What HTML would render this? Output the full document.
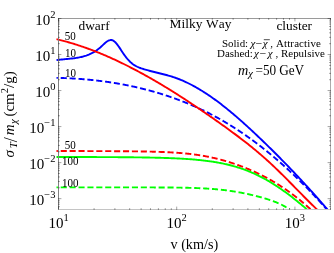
<!DOCTYPE html>
<html><head><meta charset="utf-8"><title>plot</title>
<style>
html,body{margin:0;padding:0;background:#fff;}
body{width:334px;height:253px;overflow:hidden;font-family:"Liberation Serif",serif;}
svg{display:block;will-change:transform;}
text{font-family:"Liberation Serif",serif;fill:#000;font-kerning:none;}
.i{font-style:italic;}
</style></head><body>
<svg width="334" height="253" viewBox="0 0 334 253">
<rect width="334" height="253" fill="#fff"/>
<defs><clipPath id="c"><rect x="56.3" y="0" width="280" height="210"/></clipPath></defs>

<g clip-path="url(#c)" fill="none" stroke-width="1.9" stroke-linejoin="round">
<path d="M56.3,60.18 L57.3,60.03 L58.3,59.89 L59.3,59.76 L60.3,59.64 L61.3,59.53 L62.3,59.43 L63.3,59.33 L64.3,59.23 L65.3,59.14 L66.3,59.05 L67.3,58.95 L68.3,58.86 L69.3,58.77 L70.3,58.67 L71.3,58.56 L72.3,58.45 L73.3,58.34 L74.3,58.21 L75.3,58.07 L76.3,57.92 L77.3,57.76 L78.3,57.59 L79.3,57.40 L80.3,57.19 L81.3,56.96 L82.3,56.72 L83.3,56.46 L84.3,56.17 L85.3,55.86 L86.3,55.53 L87.3,55.17 L88.3,54.78 L89.3,54.37 L90.3,53.92 L91.3,53.45 L92.3,52.94 L93.3,52.40 L94.3,51.83 L95.3,51.22 L96.3,50.56 L97.3,49.86 L98.3,49.11 L99.3,48.31 L100.3,47.44 L101.3,46.52 L102.3,45.57 L103.3,44.62 L104.3,43.69 L105.3,42.80 L106.3,42.00 L107.3,41.30 L108.3,40.72 L109.3,40.30 L110.3,40.05 L111.3,40.01 L112.3,40.21 L113.3,40.66 L114.3,41.35 L115.3,42.26 L116.3,43.35 L117.3,44.59 L118.3,45.95 L119.3,47.40 L120.3,48.90 L121.3,50.43 L122.3,51.96 L123.3,53.45 L124.3,54.89 L125.3,56.25 L126.3,57.55 L127.3,58.76 L128.3,59.90 L129.3,60.97 L130.3,61.95 L131.3,62.85 L132.3,63.67 L133.3,64.42 L134.3,65.09 L135.3,65.70 L136.3,66.26 L137.3,66.76 L138.3,67.22 L139.3,67.63 L140.3,68.01 L141.3,68.37 L142.3,68.70 L143.3,69.01 L144.3,69.32 L145.3,69.61 L146.3,69.90 L147.3,70.18 L148.3,70.46 L149.3,70.72 L150.3,70.99 L151.3,71.25 L152.3,71.50 L153.3,71.75 L154.3,72.00 L155.3,72.25 L156.3,72.49 L157.3,72.74 L158.3,72.98 L159.3,73.23 L160.3,73.48 L161.3,73.72 L162.3,73.98 L163.3,74.23 L164.3,74.49 L165.3,74.75 L166.3,75.02 L167.3,75.29 L168.3,75.57 L169.3,75.86 L170.3,76.15 L171.3,76.46 L172.3,76.77 L173.3,77.09 L174.3,77.42 L175.3,77.77 L176.3,78.12 L177.3,78.49 L178.3,78.87 L179.3,79.25 L180.3,79.65 L181.3,80.06 L182.3,80.49 L183.3,80.92 L184.3,81.36 L185.3,81.82 L186.3,82.28 L187.3,82.76 L188.3,83.24 L189.3,83.74 L190.3,84.24 L191.3,84.76 L192.3,85.28 L193.3,85.82 L194.3,86.36 L195.3,86.92 L196.3,87.48 L197.3,88.06 L198.3,88.64 L199.3,89.23 L200.3,89.83 L201.3,90.44 L202.3,91.06 L203.3,91.69 L204.3,92.33 L205.3,92.97 L206.3,93.62 L207.3,94.29 L208.3,94.96 L209.3,95.63 L210.3,96.32 L211.3,97.02 L212.3,97.72 L213.3,98.43 L214.3,99.14 L215.3,99.87 L216.3,100.60 L217.3,101.34 L218.3,102.09 L219.3,102.84 L220.3,103.60 L221.3,104.37 L222.3,105.15 L223.3,105.93 L224.3,106.71 L225.3,107.51 L226.3,108.31 L227.3,109.12 L228.3,109.93 L229.3,110.75 L230.3,111.58 L231.3,112.41 L232.3,113.24 L233.3,114.09 L234.3,114.93 L235.3,115.79 L236.3,116.65 L237.3,117.51 L238.3,118.38 L239.3,119.25 L240.3,120.13 L241.3,121.02 L242.3,121.91 L243.3,122.80 L244.3,123.70 L245.3,124.60 L246.3,125.51 L247.3,126.42 L248.3,127.33 L249.3,128.25 L250.3,129.17 L251.3,130.10 L252.3,131.03 L253.3,131.97 L254.3,132.90 L255.3,133.84 L256.3,134.79 L257.3,135.73 L258.3,136.69 L259.3,137.64 L260.3,138.59 L261.3,139.55 L262.3,140.51 L263.3,141.48 L264.3,142.45 L265.3,143.42 L266.3,144.39 L267.3,145.36 L268.3,146.34 L269.3,147.32 L270.3,148.30 L271.3,149.29 L272.3,150.28 L273.3,151.27 L274.3,152.26 L275.3,153.26 L276.3,154.26 L277.3,155.26 L278.3,156.27 L279.3,157.28 L280.3,158.29 L281.3,159.30 L282.3,160.32 L283.3,161.34 L284.3,162.36 L285.3,163.39 L286.3,164.42 L287.3,165.45 L288.3,166.49 L289.3,167.52 L290.3,168.57 L291.3,169.61 L292.3,170.66 L293.3,171.71 L294.3,172.76 L295.3,173.82 L296.3,174.88 L297.3,175.94 L298.3,177.01 L299.3,178.07 L300.3,179.15 L301.3,180.22 L302.3,181.30 L303.3,182.38 L304.3,183.47 L305.3,184.55 L306.3,185.65 L307.3,186.74 L308.3,187.84 L309.3,188.94 L310.3,190.04 L311.3,191.15 L312.3,192.26 L313.3,193.38 L314.3,194.50 L315.3,195.62 L316.3,196.74 L317.3,197.87 L318.3,199.00 L319.3,200.14 L320.3,201.27 L321.3,202.42 L322.3,203.56 L323.3,204.71 L324.3,205.86 L325.3,207.02 L326.3,208.18 L327.3,209.34 L328.3,210.50" stroke="#0000ff"/>
<path d="M56.30,77.84 L56.80,77.85 L57.30,77.87 L57.80,77.88 L57.90,77.88M60.70,77.96 L61.20,77.97 L61.70,77.99 L62.20,78.00 L62.70,78.02 L63.20,78.04 L63.70,78.06 L64.20,78.08 L64.70,78.10 L65.20,78.12 L65.70,78.14 L66.20,78.16 L66.70,78.18 L66.80,78.18M69.60,78.31 L70.10,78.34 L70.60,78.36 L71.10,78.39 L71.60,78.42 L72.10,78.44 L72.60,78.47 L73.10,78.50 L73.60,78.53 L74.10,78.56 L74.60,78.59 L75.10,78.62 L75.60,78.65 L75.70,78.66M78.50,78.84 L79.00,78.88 L79.50,78.91 L80.00,78.95 L80.50,78.99 L81.00,79.03 L81.50,79.06 L82.00,79.10 L82.50,79.14 L83.00,79.18 L83.50,79.22 L84.00,79.26 L84.50,79.31 L84.55,79.31M87.35,79.56 L87.85,79.60 L88.35,79.65 L88.85,79.69 L89.35,79.74 L89.85,79.79 L90.35,79.84 L90.85,79.89 L91.35,79.94 L91.85,79.99 L92.35,80.04 L92.85,80.09 L93.35,80.15 L93.45,80.16M96.25,80.47 L96.75,80.52 L97.25,80.58 L97.75,80.64 L98.25,80.70 L98.75,80.76 L99.25,80.82 L99.75,80.88 L100.25,80.94 L100.75,81.00 L101.25,81.07 L101.75,81.13 L102.25,81.19M105.05,81.57 L105.55,81.63 L106.05,81.70 L106.55,81.77 L107.05,81.85 L107.55,81.92 L108.05,81.99 L108.55,82.06 L109.05,82.13 L109.55,82.21 L110.05,82.28 L110.55,82.36 L111.05,82.44 L111.10,82.44M113.85,82.88 L114.35,82.96 L114.85,83.04 L115.35,83.12 L115.85,83.20 L116.35,83.29 L116.85,83.37 L117.35,83.46 L117.85,83.54 L118.35,83.63 L118.85,83.72 L119.35,83.81 L119.85,83.89M122.65,84.40 L123.15,84.50 L123.65,84.59 L124.15,84.69 L124.65,84.78 L125.15,84.88 L125.65,84.98 L126.15,85.08 L126.65,85.17 L127.15,85.27 L127.65,85.37 L128.15,85.48 L128.60,85.57M131.35,86.14 L131.85,86.25 L132.35,86.35 L132.85,86.46 L133.35,86.57 L133.85,86.68 L134.35,86.79 L134.85,86.90 L135.35,87.02 L135.85,87.13 L136.35,87.24 L136.85,87.36 L137.30,87.46M140.05,88.11 L140.55,88.23 L141.05,88.35 L141.55,88.47 L142.05,88.59 L142.55,88.72 L143.05,88.84 L143.55,88.97 L144.05,89.09 L144.55,89.22 L145.05,89.35 L145.55,89.48 L145.95,89.58M148.65,90.29 L149.15,90.42 L149.65,90.56 L150.15,90.69 L150.65,90.83 L151.15,90.97 L151.65,91.11 L152.15,91.25 L152.65,91.39 L153.15,91.53 L153.65,91.67 L154.15,91.81 L154.55,91.93M157.25,92.71 L157.75,92.86 L158.25,93.01 L158.75,93.16 L159.25,93.31 L159.75,93.47 L160.25,93.62 L160.75,93.77 L161.25,93.93 L161.75,94.08 L162.25,94.24 L162.75,94.40 L163.05,94.49M165.75,95.36 L166.25,95.53 L166.75,95.69 L167.25,95.86 L167.75,96.02 L168.25,96.19 L168.75,96.36 L169.25,96.53 L169.75,96.70 L170.25,96.87 L170.75,97.04 L171.25,97.22 L171.50,97.30M174.15,98.24 L174.65,98.42 L175.15,98.60 L175.65,98.78 L176.15,98.96 L176.65,99.15 L177.15,99.33 L177.65,99.52 L178.15,99.71 L178.65,99.89 L179.15,100.08 L179.65,100.27 L179.85,100.35M182.50,101.37 L183.00,101.57 L183.50,101.77 L184.00,101.96 L184.50,102.16 L185.00,102.36 L185.50,102.57 L186.00,102.77 L186.50,102.97 L187.00,103.18 L187.50,103.38 L188.00,103.59 L188.15,103.65M190.70,104.73 L191.20,104.94 L191.70,105.15 L192.20,105.37 L192.70,105.59 L193.20,105.81 L193.70,106.02 L194.20,106.24 L194.70,106.47 L195.20,106.69 L195.70,106.91 L196.20,107.14 L196.30,107.18M198.85,108.35 L199.35,108.58 L199.85,108.81 L200.35,109.05 L200.85,109.28 L201.35,109.52 L201.85,109.75 L202.35,109.99 L202.85,110.23 L203.35,110.47 L203.85,110.72 L204.35,110.96M206.85,112.19 L207.35,112.44 L207.85,112.70 L208.35,112.95 L208.85,113.20 L209.35,113.46 L209.85,113.71 L210.35,113.97 L210.85,114.23 L211.35,114.49 L211.85,114.75 L212.30,114.99M214.75,116.29 L215.25,116.56 L215.75,116.83 L216.25,117.10 L216.75,117.38 L217.25,117.65 L217.75,117.93 L218.25,118.20 L218.75,118.48 L219.25,118.76 L219.75,119.04 L220.10,119.24M222.55,120.64 L223.05,120.93 L223.55,121.22 L224.05,121.51 L224.55,121.80 L225.05,122.10 L225.55,122.39 L226.05,122.69 L226.55,122.99 L227.05,123.29 L227.55,123.59 L227.80,123.74M230.20,125.20 L230.70,125.51 L231.20,125.82 L231.70,126.13 L232.20,126.44 L232.70,126.76 L233.20,127.07 L233.70,127.39 L234.20,127.71 L234.70,128.03 L235.20,128.35 L235.35,128.44M237.70,129.97 L238.20,130.29 L238.70,130.62 L239.20,130.95 L239.70,131.29 L240.20,131.62 L240.70,131.95 L241.20,132.29 L241.70,132.63 L242.20,132.96 L242.70,133.30 L242.75,133.34M245.10,134.95 L245.60,135.30 L246.10,135.65 L246.60,136.00 L247.10,136.35 L247.60,136.70 L248.10,137.05 L248.60,137.41 L249.10,137.76 L249.60,138.12 L250.05,138.44M252.35,140.11 L252.85,140.48 L253.35,140.84 L253.85,141.21 L254.35,141.58 L254.85,141.95 L255.35,142.33 L255.85,142.70 L256.35,143.08 L256.85,143.45 L257.20,143.72M259.45,145.43 L259.95,145.81 L260.45,146.20 L260.95,146.59 L261.45,146.98 L261.95,147.37 L262.45,147.76 L262.95,148.15 L263.45,148.54 L263.95,148.94 L264.25,149.18M266.45,150.93 L266.95,151.34 L267.45,151.74 L267.95,152.15 L268.45,152.56 L268.95,152.96 L269.45,153.37 L269.95,153.78 L270.45,154.20 L270.95,154.61 L271.15,154.78M273.35,156.62 L273.85,157.04 L274.35,157.46 L274.85,157.88 L275.35,158.31 L275.85,158.74 L276.35,159.16 L276.85,159.59 L277.35,160.02 L277.85,160.46 L277.95,160.54M280.10,162.42 L280.60,162.86 L281.10,163.30 L281.60,163.74 L282.10,164.18 L282.60,164.63 L283.10,165.08 L283.60,165.52 L284.10,165.97 L284.60,166.42M286.70,168.33 L287.20,168.79 L287.70,169.25 L288.20,169.71 L288.70,170.17 L289.20,170.63 L289.70,171.09 L290.20,171.56 L290.70,172.03 L291.15,172.45M293.20,174.38 L293.70,174.86 L294.20,175.33 L294.70,175.81 L295.20,176.29 L295.70,176.77 L296.20,177.25 L296.70,177.74 L297.20,178.22 L297.60,178.61M299.60,180.57 L300.10,181.06 L300.60,181.55 L301.10,182.05 L301.60,182.54 L302.10,183.04 L302.60,183.54 L303.10,184.04 L303.60,184.55 L303.90,184.85M305.90,186.87 L306.40,187.38 L306.90,187.89 L307.40,188.41 L307.90,188.92 L308.40,189.44 L308.90,189.95 L309.40,190.47 L309.90,190.99 L310.15,191.25M312.10,193.29 L312.60,193.82 L313.10,194.35 L313.60,194.88 L314.10,195.41 L314.60,195.94 L315.10,196.48 L315.60,197.01 L316.10,197.55 L316.25,197.71M318.15,199.77 L318.65,200.31 L319.15,200.86 L319.65,201.40 L320.15,201.95 L320.65,202.50 L321.15,203.05 L321.65,203.60 L322.15,204.16 L322.25,204.27M324.15,206.39 L324.65,206.95 L325.15,207.51 L325.65,208.07 L326.15,208.64 L326.65,209.20 L327.15,209.77 L327.65,210.34 L327.90,210.63" stroke="#0000ff"/>
<path d="M56.3,39.16 L57.3,39.39 L58.3,39.63 L59.3,39.87 L60.3,40.12 L61.3,40.37 L62.3,40.62 L63.3,40.88 L64.3,41.14 L65.3,41.41 L66.3,41.68 L67.3,41.96 L68.3,42.24 L69.3,42.53 L70.3,42.82 L71.3,43.11 L72.3,43.41 L73.3,43.71 L74.3,44.02 L75.3,44.33 L76.3,44.64 L77.3,44.96 L78.3,45.28 L79.3,45.61 L80.3,45.94 L81.3,46.28 L82.3,46.62 L83.3,46.96 L84.3,47.31 L85.3,47.66 L86.3,48.01 L87.3,48.37 L88.3,48.74 L89.3,49.10 L90.3,49.47 L91.3,49.85 L92.3,50.23 L93.3,50.61 L94.3,51.00 L95.3,51.39 L96.3,51.78 L97.3,52.18 L98.3,52.58 L99.3,52.98 L100.3,53.39 L101.3,53.81 L102.3,54.22 L103.3,54.64 L104.3,55.07 L105.3,55.49 L106.3,55.92 L107.3,56.36 L108.3,56.79 L109.3,57.24 L110.3,57.68 L111.3,58.13 L112.3,58.58 L113.3,59.04 L114.3,59.49 L115.3,59.96 L116.3,60.42 L117.3,60.89 L118.3,61.36 L119.3,61.84 L120.3,62.32 L121.3,62.80 L122.3,63.28 L123.3,63.77 L124.3,64.26 L125.3,64.76 L126.3,65.26 L127.3,65.76 L128.3,66.26 L129.3,66.77 L130.3,67.28 L131.3,67.79 L132.3,68.31 L133.3,68.83 L134.3,69.35 L135.3,69.88 L136.3,70.41 L137.3,70.94 L138.3,71.47 L139.3,72.01 L140.3,72.55 L141.3,73.09 L142.3,73.64 L143.3,74.19 L144.3,74.74 L145.3,75.30 L146.3,75.85 L147.3,76.41 L148.3,76.98 L149.3,77.54 L150.3,78.11 L151.3,78.68 L152.3,79.26 L153.3,79.83 L154.3,80.41 L155.3,80.99 L156.3,81.58 L157.3,82.17 L158.3,82.76 L159.3,83.35 L160.3,83.94 L161.3,84.54 L162.3,85.14 L163.3,85.74 L164.3,86.35 L165.3,86.95 L166.3,87.56 L167.3,88.17 L168.3,88.79 L169.3,89.40 L170.3,90.02 L171.3,90.64 L172.3,91.27 L173.3,91.89 L174.3,92.52 L175.3,93.15 L176.3,93.78 L177.3,94.42 L178.3,95.05 L179.3,95.69 L180.3,96.33 L181.3,96.98 L182.3,97.62 L183.3,98.27 L184.3,98.92 L185.3,99.57 L186.3,100.22 L187.3,100.88 L188.3,101.53 L189.3,102.19 L190.3,102.85 L191.3,103.52 L192.3,104.18 L193.3,104.85 L194.3,105.52 L195.3,106.19 L196.3,106.86 L197.3,107.53 L198.3,108.21 L199.3,108.89 L200.3,109.56 L201.3,110.25 L202.3,110.93 L203.3,111.61 L204.3,112.30 L205.3,112.99 L206.3,113.68 L207.3,114.37 L208.3,115.06 L209.3,115.75 L210.3,116.45 L211.3,117.14 L212.3,117.84 L213.3,118.54 L214.3,119.24 L215.3,119.95 L216.3,120.65 L217.3,121.36 L218.3,122.06 L219.3,122.77 L220.3,123.48 L221.3,124.19 L222.3,124.91 L223.3,125.62 L224.3,126.34 L225.3,127.06 L226.3,127.78 L227.3,128.50 L228.3,129.22 L229.3,129.95 L230.3,130.68 L231.3,131.41 L232.3,132.15 L233.3,132.89 L234.3,133.63 L235.3,134.37 L236.3,135.12 L237.3,135.87 L238.3,136.62 L239.3,137.38 L240.3,138.14 L241.3,138.91 L242.3,139.67 L243.3,140.45 L244.3,141.22 L245.3,142.00 L246.3,142.79 L247.3,143.58 L248.3,144.37 L249.3,145.17 L250.3,145.97 L251.3,146.78 L252.3,147.59 L253.3,148.41 L254.3,149.23 L255.3,150.06 L256.3,150.89 L257.3,151.73 L258.3,152.57 L259.3,153.42 L260.3,154.28 L261.3,155.14 L262.3,156.00 L263.3,156.88 L264.3,157.76 L265.3,158.64 L266.3,159.53 L267.3,160.43 L268.3,161.33 L269.3,162.25 L270.3,163.16 L271.3,164.09 L272.3,165.02 L273.3,165.96 L274.3,166.91 L275.3,167.86 L276.3,168.82 L277.3,169.78 L278.3,170.75 L279.3,171.73 L280.3,172.71 L281.3,173.70 L282.3,174.69 L283.3,175.68 L284.3,176.68 L285.3,177.68 L286.3,178.68 L287.3,179.69 L288.3,180.70 L289.3,181.71 L290.3,182.73 L291.3,183.74 L292.3,184.76 L293.3,185.78 L294.3,186.80 L295.3,187.82 L296.3,188.84 L297.3,189.86 L298.3,190.88 L299.3,191.90 L300.3,192.92 L301.3,193.93 L302.3,194.95 L303.3,195.96 L304.3,196.97 L305.3,197.98 L306.3,198.99 L307.3,199.99 L308.3,200.99 L309.3,201.99 L310.3,202.98 L311.3,203.97 L312.3,204.95 L313.3,205.93 L314.3,206.90 L315.3,207.87 L316.3,208.83 L317.3,209.78" stroke="#ff0000"/>
<path d="M56.30,151.03 L56.80,151.03 L57.30,151.03 L57.80,151.03 L57.90,151.03M60.70,151.03 L61.20,151.03 L61.70,151.03 L62.20,151.03 L62.70,151.03 L63.20,151.04 L63.70,151.04 L64.20,151.04 L64.70,151.04 L65.20,151.04 L65.70,151.04 L66.20,151.04 L66.70,151.04 L66.80,151.04M69.60,151.04 L70.10,151.04 L70.60,151.04 L71.10,151.04 L71.60,151.05 L72.10,151.05 L72.60,151.05 L73.10,151.05 L73.60,151.05 L74.10,151.05 L74.60,151.05 L75.10,151.05 L75.60,151.05 L75.70,151.05M78.50,151.06 L79.00,151.06 L79.50,151.06 L80.00,151.06 L80.50,151.06 L81.00,151.06 L81.50,151.06 L82.00,151.06 L82.50,151.06 L83.00,151.06 L83.50,151.07 L84.00,151.07 L84.50,151.07 L84.60,151.07M87.40,151.07 L87.90,151.08 L88.40,151.08 L88.90,151.08 L89.40,151.08 L89.90,151.08 L90.40,151.08 L90.90,151.08 L91.40,151.08 L91.90,151.09 L92.40,151.09 L92.90,151.09 L93.40,151.09 L93.50,151.09M96.30,151.10 L96.80,151.10 L97.30,151.10 L97.80,151.10 L98.30,151.11 L98.80,151.11 L99.30,151.11 L99.80,151.11 L100.30,151.11 L100.80,151.11 L101.30,151.12 L101.80,151.12 L102.30,151.12 L102.40,151.12M105.20,151.13 L105.70,151.13 L106.20,151.14 L106.70,151.14 L107.20,151.14 L107.70,151.14 L108.20,151.15 L108.70,151.15 L109.20,151.15 L109.70,151.15 L110.20,151.16 L110.70,151.16 L111.20,151.16 L111.30,151.16M114.10,151.18 L114.60,151.18 L115.10,151.18 L115.60,151.19 L116.10,151.19 L116.60,151.19 L117.10,151.20 L117.60,151.20 L118.10,151.20 L118.60,151.21 L119.10,151.21 L119.60,151.21 L120.10,151.22 L120.20,151.22M123.00,151.24 L123.50,151.24 L124.00,151.25 L124.50,151.25 L125.00,151.26 L125.50,151.26 L126.00,151.26 L126.50,151.27 L127.00,151.27 L127.50,151.28 L128.00,151.28 L128.50,151.29 L129.00,151.29 L129.10,151.29M131.90,151.32 L132.40,151.33 L132.90,151.34 L133.40,151.34 L133.90,151.35 L134.40,151.35 L134.90,151.36 L135.40,151.37 L135.90,151.37 L136.40,151.38 L136.90,151.39 L137.40,151.39 L137.90,151.40 L138.00,151.40M140.80,151.45 L141.30,151.45 L141.80,151.46 L142.30,151.47 L142.80,151.48 L143.30,151.49 L143.80,151.50 L144.30,151.51 L144.80,151.52 L145.30,151.52 L145.80,151.53 L146.30,151.54 L146.80,151.55 L146.90,151.56M149.70,151.62 L150.20,151.63 L150.70,151.64 L151.20,151.65 L151.70,151.66 L152.20,151.68 L152.70,151.69 L153.20,151.70 L153.70,151.72 L154.20,151.73 L154.70,151.74 L155.20,151.76 L155.70,151.77 L155.80,151.78M158.60,151.86 L159.10,151.88 L159.60,151.90 L160.10,151.91 L160.60,151.93 L161.10,151.95 L161.60,151.97 L162.10,151.99 L162.60,152.01 L163.10,152.03 L163.60,152.05 L164.10,152.07 L164.60,152.09 L164.70,152.09M167.50,152.22 L168.00,152.24 L168.50,152.26 L169.00,152.29 L169.50,152.32 L170.00,152.34 L170.50,152.37 L171.00,152.39 L171.50,152.42 L172.00,152.45 L172.50,152.48 L173.00,152.51 L173.50,152.54 L173.60,152.54M176.40,152.72 L176.90,152.76 L177.40,152.79 L177.90,152.83 L178.40,152.87 L178.90,152.90 L179.40,152.94 L179.90,152.98 L180.40,153.02 L180.90,153.06 L181.40,153.10 L181.90,153.14 L182.40,153.18 L182.45,153.19M185.25,153.44 L185.75,153.49 L186.25,153.54 L186.75,153.59 L187.25,153.64 L187.75,153.69 L188.25,153.75 L188.75,153.80 L189.25,153.85 L189.75,153.91 L190.25,153.97 L190.75,154.02 L191.25,154.08 L191.30,154.09M194.10,154.44 L194.60,154.50 L195.10,154.57 L195.60,154.64 L196.10,154.71 L196.60,154.78 L197.10,154.85 L197.60,154.92 L198.10,155.00 L198.60,155.07 L199.10,155.15 L199.60,155.23 L200.10,155.31 L200.15,155.31M202.90,155.77 L203.40,155.86 L203.90,155.95 L204.40,156.03 L204.90,156.13 L205.40,156.22 L205.90,156.31 L206.40,156.41 L206.90,156.50 L207.40,156.60 L207.90,156.70 L208.40,156.80 L208.90,156.90M211.65,157.48 L212.15,157.59 L212.65,157.70 L213.15,157.81 L213.65,157.92 L214.15,158.04 L214.65,158.15 L215.15,158.27 L215.65,158.39 L216.15,158.51 L216.65,158.63 L217.15,158.76 L217.55,158.86M220.30,159.56 L220.80,159.70 L221.30,159.83 L221.80,159.97 L222.30,160.10 L222.80,160.24 L223.30,160.38 L223.80,160.52 L224.30,160.66 L224.80,160.81 L225.30,160.95 L225.80,161.10 L226.15,161.20M228.85,162.02 L229.35,162.18 L229.85,162.33 L230.35,162.49 L230.85,162.65 L231.35,162.81 L231.85,162.97 L232.35,163.14 L232.85,163.30 L233.35,163.47 L233.85,163.64 L234.35,163.81 L234.65,163.91M237.30,164.83 L237.80,165.01 L238.30,165.19 L238.80,165.37 L239.30,165.56 L239.80,165.74 L240.30,165.93 L240.80,166.11 L241.30,166.30 L241.80,166.49 L242.30,166.68 L242.80,166.88 L243.00,166.95M245.60,167.98 L246.10,168.18 L246.60,168.39 L247.10,168.59 L247.60,168.80 L248.10,169.00 L248.60,169.21 L249.10,169.42 L249.60,169.64 L250.10,169.85 L250.60,170.07 L251.10,170.28 L251.25,170.35M253.80,171.48 L254.30,171.71 L254.80,171.93 L255.30,172.16 L255.80,172.39 L256.30,172.63 L256.80,172.86 L257.30,173.10 L257.80,173.34 L258.30,173.58 L258.80,173.82 L259.30,174.06M261.85,175.32 L262.35,175.57 L262.85,175.83 L263.35,176.09 L263.85,176.34 L264.35,176.60 L264.85,176.86 L265.35,177.13 L265.85,177.39 L266.35,177.66 L266.85,177.93 L267.25,178.14M269.70,179.49 L270.20,179.77 L270.70,180.06 L271.20,180.34 L271.70,180.63 L272.20,180.92 L272.70,181.21 L273.20,181.50 L273.70,181.79 L274.20,182.09 L274.70,182.39 L274.95,182.54M277.35,184.00 L277.85,184.31 L278.35,184.62 L278.85,184.93 L279.35,185.25 L279.85,185.57 L280.35,185.89 L280.85,186.21 L281.35,186.54 L281.85,186.86 L282.35,187.19 L282.50,187.29M284.85,188.87 L285.35,189.21 L285.85,189.55 L286.35,189.90 L286.85,190.24 L287.35,190.59 L287.85,190.95 L288.35,191.30 L288.85,191.66 L289.35,192.01 L289.80,192.34M292.10,194.03 L292.60,194.40 L293.10,194.77 L293.60,195.15 L294.10,195.53 L294.60,195.91 L295.10,196.29 L295.60,196.68 L296.10,197.07 L296.60,197.46 L296.90,197.69M299.10,199.44 L299.60,199.85 L300.10,200.25 L300.60,200.66 L301.10,201.07 L301.60,201.48 L302.10,201.90 L302.60,202.32 L303.10,202.74 L303.60,203.16 L303.80,203.33M305.95,205.17 L306.45,205.60 L306.95,206.04 L307.45,206.48 L307.95,206.92 L308.45,207.36 L308.95,207.81 L309.45,208.26 L309.95,208.71 L310.45,209.16 L310.50,209.20" stroke="#ff0000"/>
<path d="M56.3,157.02 L57.3,157.02 L58.3,157.02 L59.3,157.02 L60.3,157.02 L61.3,157.02 L62.3,157.02 L63.3,157.02 L64.3,157.02 L65.3,157.02 L66.3,157.02 L67.3,157.03 L68.3,157.03 L69.3,157.03 L70.3,157.03 L71.3,157.03 L72.3,157.03 L73.3,157.03 L74.3,157.03 L75.3,157.03 L76.3,157.04 L77.3,157.04 L78.3,157.04 L79.3,157.04 L80.3,157.04 L81.3,157.04 L82.3,157.04 L83.3,157.05 L84.3,157.05 L85.3,157.05 L86.3,157.05 L87.3,157.05 L88.3,157.05 L89.3,157.06 L90.3,157.06 L91.3,157.06 L92.3,157.06 L93.3,157.07 L94.3,157.07 L95.3,157.07 L96.3,157.07 L97.3,157.08 L98.3,157.08 L99.3,157.08 L100.3,157.09 L101.3,157.09 L102.3,157.09 L103.3,157.10 L104.3,157.10 L105.3,157.11 L106.3,157.11 L107.3,157.11 L108.3,157.12 L109.3,157.12 L110.3,157.13 L111.3,157.14 L112.3,157.14 L113.3,157.15 L114.3,157.15 L115.3,157.16 L116.3,157.17 L117.3,157.17 L118.3,157.18 L119.3,157.19 L120.3,157.20 L121.3,157.20 L122.3,157.21 L123.3,157.22 L124.3,157.23 L125.3,157.24 L126.3,157.25 L127.3,157.26 L128.3,157.26 L129.3,157.27 L130.3,157.29 L131.3,157.30 L132.3,157.31 L133.3,157.32 L134.3,157.33 L135.3,157.34 L136.3,157.35 L137.3,157.37 L138.3,157.38 L139.3,157.39 L140.3,157.41 L141.3,157.42 L142.3,157.44 L143.3,157.45 L144.3,157.47 L145.3,157.49 L146.3,157.50 L147.3,157.52 L148.3,157.54 L149.3,157.56 L150.3,157.58 L151.3,157.60 L152.3,157.62 L153.3,157.64 L154.3,157.66 L155.3,157.68 L156.3,157.71 L157.3,157.73 L158.3,157.76 L159.3,157.78 L160.3,157.81 L161.3,157.84 L162.3,157.87 L163.3,157.90 L164.3,157.93 L165.3,157.96 L166.3,157.99 L167.3,158.03 L168.3,158.06 L169.3,158.10 L170.3,158.14 L171.3,158.18 L172.3,158.22 L173.3,158.26 L174.3,158.30 L175.3,158.35 L176.3,158.40 L177.3,158.44 L178.3,158.49 L179.3,158.54 L180.3,158.60 L181.3,158.65 L182.3,158.71 L183.3,158.77 L184.3,158.83 L185.3,158.89 L186.3,158.96 L187.3,159.02 L188.3,159.09 L189.3,159.16 L190.3,159.24 L191.3,159.31 L192.3,159.39 L193.3,159.48 L194.3,159.56 L195.3,159.65 L196.3,159.74 L197.3,159.83 L198.3,159.93 L199.3,160.03 L200.3,160.13 L201.3,160.23 L202.3,160.34 L203.3,160.46 L204.3,160.57 L205.3,160.69 L206.3,160.82 L207.3,160.95 L208.3,161.08 L209.3,161.22 L210.3,161.36 L211.3,161.50 L212.3,161.65 L213.3,161.81 L214.3,161.97 L215.3,162.13 L216.3,162.30 L217.3,162.47 L218.3,162.65 L219.3,162.84 L220.3,163.03 L221.3,163.22 L222.3,163.43 L223.3,163.63 L224.3,163.85 L225.3,164.07 L226.3,164.29 L227.3,164.53 L228.3,164.77 L229.3,165.01 L230.3,165.26 L231.3,165.52 L232.3,165.79 L233.3,166.06 L234.3,166.35 L235.3,166.63 L236.3,166.93 L237.3,167.23 L238.3,167.55 L239.3,167.87 L240.3,168.19 L241.3,168.53 L242.3,168.87 L243.3,169.23 L244.3,169.59 L245.3,169.96 L246.3,170.33 L247.3,170.72 L248.3,171.11 L249.3,171.52 L250.3,171.93 L251.3,172.35 L252.3,172.78 L253.3,173.22 L254.3,173.67 L255.3,174.13 L256.3,174.60 L257.3,175.07 L258.3,175.56 L259.3,176.05 L260.3,176.56 L261.3,177.07 L262.3,177.60 L263.3,178.13 L264.3,178.67 L265.3,179.22 L266.3,179.78 L267.3,180.35 L268.3,180.93 L269.3,181.51 L270.3,182.11 L271.3,182.71 L272.3,183.33 L273.3,183.95 L274.3,184.58 L275.3,185.22 L276.3,185.87 L277.3,186.53 L278.3,187.20 L279.3,187.87 L280.3,188.55 L281.3,189.25 L282.3,189.94 L283.3,190.65 L284.3,191.37 L285.3,192.09 L286.3,192.82 L287.3,193.56 L288.3,194.30 L289.3,195.06 L290.3,195.82 L291.3,196.58 L292.3,197.36 L293.3,198.14 L294.3,198.93 L295.3,199.72 L296.3,200.52 L297.3,201.33 L298.3,202.14 L299.3,202.96 L300.3,203.78 L301.3,204.61 L302.3,205.45 L303.3,206.29 L304.3,207.14 L305.3,207.99 L306.3,208.85 L307.3,209.71 L308.3,210.58" stroke="#00ff00"/>
<path d="M56.30,187.35 L56.80,187.35 L57.30,187.35 L57.80,187.35 L57.90,187.35M60.70,187.35 L61.20,187.35 L61.70,187.35 L62.20,187.35 L62.70,187.35 L63.20,187.35 L63.70,187.35 L64.20,187.35 L64.70,187.35 L65.20,187.35 L65.70,187.35 L66.20,187.35 L66.70,187.35 L66.80,187.35M69.60,187.35 L70.10,187.35 L70.60,187.35 L71.10,187.35 L71.60,187.35 L72.10,187.35 L72.60,187.35 L73.10,187.35 L73.60,187.35 L74.10,187.35 L74.60,187.35 L75.10,187.35 L75.60,187.35 L75.70,187.35M78.50,187.35 L79.00,187.35 L79.50,187.35 L80.00,187.35 L80.50,187.35 L81.00,187.35 L81.50,187.35 L82.00,187.35 L82.50,187.35 L83.00,187.35 L83.50,187.35 L84.00,187.35 L84.50,187.35 L84.60,187.35M87.40,187.35 L87.90,187.35 L88.40,187.35 L88.90,187.35 L89.40,187.35 L89.90,187.35 L90.40,187.35 L90.90,187.35 L91.40,187.35 L91.90,187.35 L92.40,187.35 L92.90,187.35 L93.40,187.35 L93.50,187.35M96.30,187.35 L96.80,187.35 L97.30,187.35 L97.80,187.35 L98.30,187.35 L98.80,187.35 L99.30,187.35 L99.80,187.35 L100.30,187.35 L100.80,187.35 L101.30,187.35 L101.80,187.35 L102.30,187.35 L102.40,187.35M105.20,187.36 L105.70,187.36 L106.20,187.36 L106.70,187.36 L107.20,187.36 L107.70,187.36 L108.20,187.36 L108.70,187.36 L109.20,187.36 L109.70,187.36 L110.20,187.36 L110.70,187.36 L111.20,187.36 L111.30,187.36M114.10,187.36 L114.60,187.36 L115.10,187.36 L115.60,187.36 L116.10,187.36 L116.60,187.36 L117.10,187.36 L117.60,187.36 L118.10,187.36 L118.60,187.36 L119.10,187.36 L119.60,187.36 L120.10,187.36 L120.20,187.36M123.00,187.36 L123.50,187.36 L124.00,187.36 L124.50,187.36 L125.00,187.37 L125.50,187.37 L126.00,187.37 L126.50,187.37 L127.00,187.37 L127.50,187.37 L128.00,187.37 L128.50,187.37 L129.00,187.37 L129.10,187.37M131.90,187.37 L132.40,187.37 L132.90,187.37 L133.40,187.37 L133.90,187.37 L134.40,187.38 L134.90,187.38 L135.40,187.38 L135.90,187.38 L136.40,187.38 L136.90,187.38 L137.40,187.38 L137.90,187.38 L138.00,187.38M140.80,187.39 L141.30,187.39 L141.80,187.39 L142.30,187.39 L142.80,187.39 L143.30,187.39 L143.80,187.39 L144.30,187.39 L144.80,187.39 L145.30,187.40 L145.80,187.40 L146.30,187.40 L146.80,187.40 L146.90,187.40M149.70,187.41 L150.20,187.41 L150.70,187.41 L151.20,187.41 L151.70,187.42 L152.20,187.42 L152.70,187.42 L153.20,187.42 L153.70,187.42 L154.20,187.43 L154.70,187.43 L155.20,187.43 L155.70,187.43 L155.80,187.43M158.60,187.45 L159.10,187.45 L159.60,187.45 L160.10,187.45 L160.60,187.46 L161.10,187.46 L161.60,187.46 L162.10,187.47 L162.60,187.47 L163.10,187.47 L163.60,187.48 L164.10,187.48 L164.60,187.48 L164.70,187.48M167.50,187.51 L168.00,187.51 L168.50,187.51 L169.00,187.52 L169.50,187.52 L170.00,187.53 L170.50,187.53 L171.00,187.54 L171.50,187.54 L172.00,187.55 L172.50,187.55 L173.00,187.56 L173.50,187.57 L173.60,187.57M176.40,187.60 L176.90,187.61 L177.40,187.62 L177.90,187.62 L178.40,187.63 L178.90,187.64 L179.40,187.65 L179.90,187.65 L180.40,187.66 L180.90,187.67 L181.40,187.68 L181.90,187.69 L182.40,187.70 L182.50,187.70M185.30,187.76 L185.80,187.77 L186.30,187.78 L186.80,187.79 L187.30,187.80 L187.80,187.81 L188.30,187.82 L188.80,187.84 L189.30,187.85 L189.80,187.86 L190.30,187.88 L190.80,187.89 L191.30,187.91 L191.40,187.91M194.20,188.00 L194.70,188.01 L195.20,188.03 L195.70,188.05 L196.20,188.07 L196.70,188.09 L197.20,188.11 L197.70,188.13 L198.20,188.15 L198.70,188.17 L199.20,188.19 L199.70,188.21 L200.20,188.23 L200.30,188.24M203.10,188.37 L203.60,188.40 L204.10,188.42 L204.60,188.45 L205.10,188.48 L205.60,188.51 L206.10,188.53 L206.60,188.56 L207.10,188.59 L207.60,188.63 L208.10,188.66 L208.60,188.69 L209.10,188.72 L209.20,188.73M212.00,188.93 L212.50,188.97 L213.00,189.01 L213.50,189.05 L214.00,189.09 L214.50,189.13 L215.00,189.17 L215.50,189.21 L216.00,189.26 L216.50,189.30 L217.00,189.35 L217.50,189.39 L218.00,189.44 L218.05,189.44M220.85,189.73 L221.35,189.78 L221.85,189.83 L222.35,189.89 L222.85,189.95 L223.35,190.00 L223.85,190.06 L224.35,190.12 L224.85,190.18 L225.35,190.24 L225.85,190.30 L226.35,190.37 L226.85,190.43 L226.90,190.44M229.70,190.82 L230.20,190.89 L230.70,190.96 L231.20,191.04 L231.70,191.11 L232.20,191.19 L232.70,191.26 L233.20,191.34 L233.70,191.42 L234.20,191.50 L234.70,191.58 L235.20,191.66 L235.70,191.74M238.50,192.23 L239.00,192.32 L239.50,192.41 L240.00,192.50 L240.50,192.59 L241.00,192.68 L241.50,192.78 L242.00,192.88 L242.50,192.97 L243.00,193.07 L243.50,193.17 L244.00,193.27 L244.45,193.36M247.20,193.94 L247.70,194.04 L248.20,194.15 L248.70,194.26 L249.20,194.37 L249.70,194.49 L250.20,194.60 L250.70,194.71 L251.20,194.83 L251.70,194.95 L252.20,195.06 L252.70,195.18 L253.15,195.29M255.90,195.96 L256.40,196.09 L256.90,196.22 L257.40,196.35 L257.90,196.48 L258.40,196.61 L258.90,196.74 L259.40,196.87 L259.90,197.01 L260.40,197.14 L260.90,197.28 L261.40,197.42 L261.75,197.52M264.45,198.30 L264.95,198.45 L265.45,198.60 L265.95,198.75 L266.45,198.90 L266.95,199.06 L267.45,199.21 L267.95,199.37 L268.45,199.53 L268.95,199.70 L269.45,199.86 L269.95,200.03 L270.25,200.13M272.90,201.06 L273.40,201.24 L273.90,201.43 L274.40,201.62 L274.90,201.81 L275.40,202.00 L275.90,202.20 L276.40,202.40 L276.90,202.61 L277.40,202.82 L277.90,203.03 L278.40,203.25 L278.55,203.31M281.15,204.52 L281.65,204.77 L282.15,205.02 L282.65,205.28 L283.15,205.54 L283.65,205.81 L284.15,206.09 L284.65,206.37 L285.15,206.66 L285.65,206.96 L286.15,207.26 L286.45,207.45M288.80,209.02 L289.30,209.38 L289.80,209.76 L290.30,210.14 L290.80,210.53 L291.00,210.69" stroke="#00ff00"/>
</g>
<path d="M58.5,18.0V210.0" stroke="#808080" stroke-width="1" fill="none"/>
<path d="M58.0,18.5H331.0" stroke="#9a9a9a" stroke-width="1" fill="none"/>
<path d="M330.5,18.0V210.0" stroke="#ababab" stroke-width="1" fill="none"/>
<path d="M58.0,209.5H331.0" stroke="#c4c4c4" stroke-width="1" fill="none"/>
<path d="M58.50,210.0v-3.4M58.50,18.0v3.4M94.08,210.0v-1.9M94.08,18.0v1.9M114.90,210.0v-1.9M114.90,18.0v1.9M129.67,210.0v-1.9M129.67,18.0v1.9M141.12,210.0v-1.9M141.12,18.0v1.9M150.48,210.0v-1.9M150.48,18.0v1.9M158.40,210.0v-1.9M158.40,18.0v1.9M165.25,210.0v-1.9M165.25,18.0v1.9M171.30,210.0v-1.9M171.30,18.0v1.9M176.71,210.0v-3.4M176.71,18.0v3.4M212.29,210.0v-1.9M212.29,18.0v1.9M233.11,210.0v-1.9M233.11,18.0v1.9M247.88,210.0v-1.9M247.88,18.0v1.9M259.33,210.0v-1.9M259.33,18.0v1.9M268.69,210.0v-1.9M268.69,18.0v1.9M276.61,210.0v-1.9M276.61,18.0v1.9M283.46,210.0v-1.9M283.46,18.0v1.9M289.51,210.0v-1.9M289.51,18.0v1.9M294.92,210.0v-3.4M294.92,18.0v3.4M330.50,210.0v-1.9M330.50,18.0v1.9M58.0,206.65h1.9M331.0,206.65h-1.9M58.0,204.23h1.9M331.0,204.23h-1.9M58.0,202.15h1.9M331.0,202.15h-1.9M58.0,200.30h1.9M331.0,200.30h-1.9M58.0,198.65h3.4M331.0,198.65h-3.4M58.0,187.81h1.9M331.0,187.81h-1.9M58.0,181.46h1.9M331.0,181.46h-1.9M58.0,176.96h1.9M331.0,176.96h-1.9M58.0,173.47h1.9M331.0,173.47h-1.9M58.0,170.62h1.9M331.0,170.62h-1.9M58.0,168.20h1.9M331.0,168.20h-1.9M58.0,166.11h1.9M331.0,166.11h-1.9M58.0,164.27h1.9M331.0,164.27h-1.9M58.0,162.62h3.4M331.0,162.62h-3.4M58.0,151.78h1.9M331.0,151.78h-1.9M58.0,145.43h1.9M331.0,145.43h-1.9M58.0,140.93h1.9M331.0,140.93h-1.9M58.0,137.44h1.9M331.0,137.44h-1.9M58.0,134.59h1.9M331.0,134.59h-1.9M58.0,132.17h1.9M331.0,132.17h-1.9M58.0,130.08h1.9M331.0,130.08h-1.9M58.0,128.24h1.9M331.0,128.24h-1.9M58.0,126.59h3.4M331.0,126.59h-3.4M58.0,115.75h1.9M331.0,115.75h-1.9M58.0,109.40h1.9M331.0,109.40h-1.9M58.0,104.90h1.9M331.0,104.90h-1.9M58.0,101.41h1.9M331.0,101.41h-1.9M58.0,98.55h1.9M331.0,98.55h-1.9M58.0,96.14h1.9M331.0,96.14h-1.9M58.0,94.05h1.9M331.0,94.05h-1.9M58.0,92.21h1.9M331.0,92.21h-1.9M58.0,90.56h3.4M331.0,90.56h-3.4M58.0,79.72h1.9M331.0,79.72h-1.9M58.0,73.37h1.9M331.0,73.37h-1.9M58.0,68.87h1.9M331.0,68.87h-1.9M58.0,65.38h1.9M331.0,65.38h-1.9M58.0,62.52h1.9M331.0,62.52h-1.9M58.0,60.11h1.9M331.0,60.11h-1.9M58.0,58.02h1.9M331.0,58.02h-1.9M58.0,56.18h1.9M331.0,56.18h-1.9M58.0,54.53h3.4M331.0,54.53h-3.4M58.0,43.68h1.9M331.0,43.68h-1.9M58.0,37.34h1.9M331.0,37.34h-1.9M58.0,32.84h1.9M331.0,32.84h-1.9M58.0,29.35h1.9M331.0,29.35h-1.9M58.0,26.49h1.9M331.0,26.49h-1.9M58.0,24.08h1.9M331.0,24.08h-1.9M58.0,21.99h1.9M331.0,21.99h-1.9M58.0,20.15h1.9M331.0,20.15h-1.9M58.0,18.50h3.4M331.0,18.50h-3.4" stroke="#000" stroke-opacity="0.4" stroke-width="0.9" fill="none"/>
<text x="55.4" y="24.5" font-size="15" text-anchor="end">10<tspan font-size="10.5" dy="-6.8">2</tspan></text>
<text x="55.4" y="60.5" font-size="15" text-anchor="end">10<tspan font-size="10.5" dy="-6.8">1</tspan></text>
<text x="55.4" y="96.6" font-size="15" text-anchor="end">10<tspan font-size="10.5" dy="-6.8">0</tspan></text>
<text x="55.4" y="132.6" font-size="15" text-anchor="end">10<tspan font-size="10.5" dy="-6.8">−1</tspan></text>
<text x="55.4" y="168.6" font-size="15" text-anchor="end">10<tspan font-size="10.5" dy="-6.8">−2</tspan></text>
<text x="55.4" y="204.7" font-size="15" text-anchor="end">10<tspan font-size="10.5" dy="-6.8">−3</tspan></text>
<text x="58.5" y="227.8" font-size="15" text-anchor="middle">10<tspan font-size="10.5" dy="-6.8">1</tspan></text>
<text x="176.7" y="227.8" font-size="15" text-anchor="middle">10<tspan font-size="10.5" dy="-6.8">2</tspan></text>
<text x="294.9" y="227.8" font-size="15" text-anchor="middle">10<tspan font-size="10.5" dy="-6.8">3</tspan></text>
<text x="78.5" y="30.2" font-size="13.4">dwarf</text>
<text x="169.6" y="27.8" font-size="13.4" word-spacing="0.4">Milky Way</text>
<text x="276.4" y="29.8" font-size="13.4">cluster</text>
<text x="222.0" y="47.3" font-size="10.95">Solid:</text>
<text x="250.5" y="47.3" font-size="10.95" class="i">χ</text>
<text x="255.4" y="47.3" font-size="11.8">−</text>
<text x="262.8" y="47.3" font-size="10.95" class="i">χ</text>
<path d="M263.8,39.7H269.8" stroke="#000" stroke-width="0.7"/>
<text x="270.3" y="47.3" font-size="10.95">,</text>
<text letter-spacing="0.13" x="276.0" y="47.3" font-size="10.95">Attractive</text>
<text x="217.0" y="57.2" font-size="10.95">Dashed:</text>
<text x="253.9" y="57.2" font-size="10.95" class="i">χ</text>
<text x="259.5" y="57.2" font-size="11.8">−</text>
<text x="267.7" y="57.2" font-size="10.95" class="i">χ</text>
<text x="275.4" y="57.2" font-size="10.95">,</text>
<text x="281.0" y="57.2" font-size="10.95">Repulsive</text>
<text transform="translate(237.9,75.0) scale(0.95,1)" font-size="15" class="i">m</text>
<text transform="translate(248.3,77.2) scale(1.0,1)" font-size="10.5" class="i">χ</text>
<text transform="translate(255.4,75.0) scale(0.88,1)" font-size="15">=</text>
<text transform="translate(263.0,75.0) scale(0.88,1)" font-size="15">50</text>
<text transform="translate(279.2,75.0) scale(0.88,1)" font-size="15">GeV</text>
<text transform="translate(64.7,39.5) scale(0.92,1)" font-size="12">50</text>
<text transform="translate(64.9,56.5) scale(0.92,1)" font-size="12">10</text>
<text transform="translate(64.9,77.1) scale(0.92,1)" font-size="12">10</text>
<text transform="translate(64.7,148.9) scale(0.92,1)" font-size="12">50</text>
<text transform="translate(62.0,165.1) scale(0.92,1)" font-size="12">100</text>
<text transform="translate(62.0,186.5) scale(0.92,1)" font-size="12">100</text>
<text x="170.5" y="248.5" font-size="14.2">v (km/s)</text>
<g transform="translate(14.3,157.6) rotate(-90)"><text x="0" y="0" font-size="15" class="i">σ</text><text x="9.3" y="2.7" font-size="10.8" class="i">T</text><text x="15.3" y="2.3" font-size="18">/</text><text x="22.3" y="0" font-size="15" class="i">m</text><text x="33.6" y="2.9" font-size="10.8" class="i">χ</text><text x="41.0" y="0" font-size="15">(cm<tspan font-size="10.5" dy="-6.5">2</tspan><tspan dy="6.5">/g)</tspan></text></g>
</svg></body></html>
